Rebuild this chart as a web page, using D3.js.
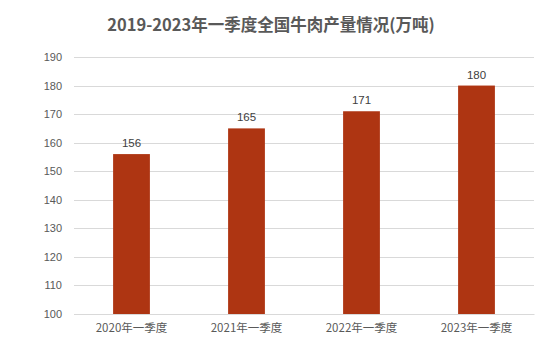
<!DOCTYPE html>
<html>
<head>
<meta charset="utf-8">
<script src="https://cdn.jsdelivr.net/npm/d3@7"></script>
<style>
  body { margin: 0; background: #fff; }
  text { font-family: "Noto Sans CJK SC", "Liberation Sans", sans-serif; }
</style>
</head>
<body>
<div id="chart"></div>
<script>
// data
var categories = ["2020年一季度", "2021年一季度", "2022年一季度", "2023年一季度"];
var values = [156, 165, 171, 180];
var yTicks = [100, 110, 120, 130, 140, 150, 160, 170, 180, 190];
var title = "2019-2023年一季度全国牛肉产量情况(万吨)";

var W = 559, H = 352;
var margin = {top: 57, right: 25, bottom: 38, left: 74},
    width = W - margin.left - margin.right,
    height = H - margin.top - margin.bottom;

var root = d3.select("#chart").append("svg")
    .attr("width", W)
    .attr("height", H);

root.append("text")
    .attr("x", 271)
    .attr("y", 31)
    .attr("text-anchor", "middle")
    .style("font-size", "16.5px")
    .style("font-weight", "bold")
    .attr("fill", "#595959")
    .text(title);

var svg = root.append("g")
    .attr("transform", "translate(" + margin.left + "," + margin.top + ")");

var x = d3.scaleBand()
    .range([0, width])
    .domain(categories)
    .paddingInner(0.68)
    .paddingOuter(0.34);

var y = d3.scaleLinear()
    .domain([100, 190])
    .range([height, 0]);

// gridlines
svg.selectAll(".grid")
    .data(yTicks)
    .enter()
    .append("line")
    .attr("x1", 0)
    .attr("x2", width)
    .attr("y1", function(d) { return Math.round(y(d)) + 0.5; })
    .attr("y2", function(d) { return Math.round(y(d)) + 0.5; })
    .attr("stroke", "#d9d9d9")
    .attr("stroke-width", 1);

// y labels
var yAxis = svg.append("g")
    .call(d3.axisLeft(y).tickValues(yTicks).tickSize(0).tickPadding(12));
yAxis.select(".domain").remove();
yAxis.selectAll("text")
    .style("font-size", "11px")
    .style("font-family", "'Liberation Sans', sans-serif")
    .attr("fill", "#595959");

// bars
svg.selectAll("mybar")
    .data(values)
    .enter()
    .append("rect")
    .attr("x", function(d, i) { return x(categories[i]); })
    .attr("y", function(d) { return y(d); })
    .attr("width", x.bandwidth())
    .attr("height", function(d) { return height - y(d); })
    .attr("fill", "#AE3512");

// value labels
svg.selectAll(".val")
    .data(values)
    .enter()
    .append("text")
    .attr("x", function(d, i) { return x(categories[i]) + x.bandwidth() / 2; })
    .attr("y", function(d) { return y(d) - 7; })
    .attr("text-anchor", "middle")
    .style("font-size", "11.5px")
    .style("font-family", "'Liberation Sans', sans-serif")
    .attr("fill", "#404040")
    .text(function(d) { return d; });

// x axis
var xAxis = svg.append("g")
    .attr("transform", "translate(0," + height + ")")
    .call(d3.axisBottom(x).tickSize(0).tickPadding(10));
xAxis.select(".domain").attr("stroke", "#d9d9d9");
xAxis.selectAll("text")
    .style("font-size", "11.5px")
    .attr("fill", "#595959");
</script>
</body>
</html>
